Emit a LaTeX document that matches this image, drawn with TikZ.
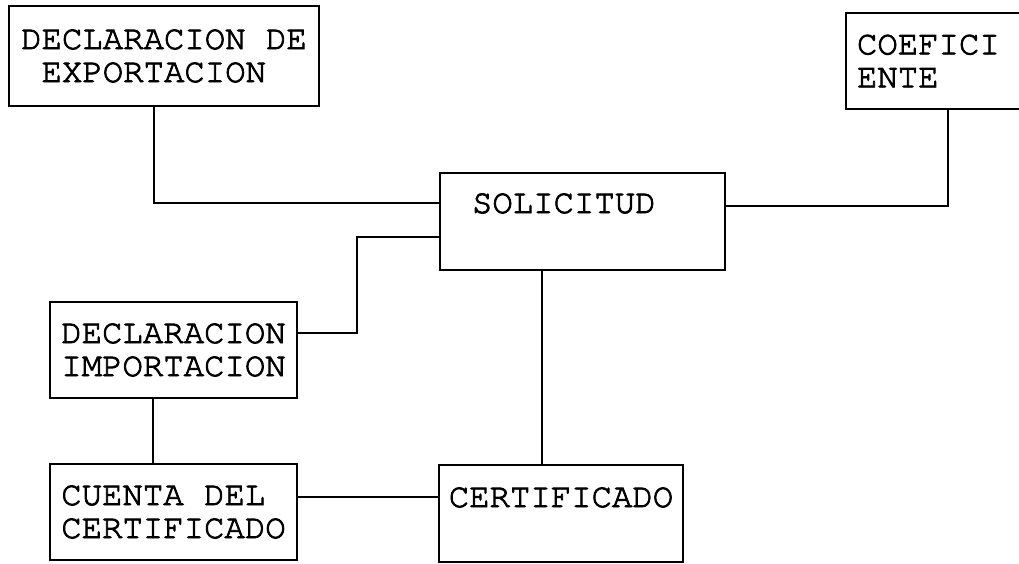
\documentclass[tikz,border=0pt]{standalone}
\usepackage{fontspec}
\newfontfamily\cursorfont[FakeBold=2.5]{texgyrecursor-regular.otf}
\usepackage{tikz}

\begin{document}
\begin{tikzpicture}[
  x=1pt, y=-1pt,
  box/.style={draw, line width=2.4pt, align=left,
    font=\cursorfont\fontsize{34}{33}\selectfont,
    inner xsep=8pt, inner ysep=0pt},
  link/.style={line width=2.4pt},
]
\useasboundingbox (0,0) rectangle (1019,563);

\node[box, minimum width=310pt, minimum height=100pt] (expo) at (164,56)
  {DECLARACION DE\\\phantom{E}EXPORTACION};
\node[box, minimum width=300pt, minimum height=96pt, inner xsep=11pt,
  text width=278pt] (coef) at (996,61)
  {COEFICI\\ENTE};
\node[box, minimum width=285pt, minimum height=97pt, inner xsep=32pt,
  text width=221pt, text height=19pt, text depth=36pt] (soli) at (582.5,221.5)
  {SOLICITUD};
\node[box, minimum width=247pt, minimum height=96pt] (impo) at (173.5,350)
  {DECLARACION\\IMPORTACION};
\node[box, minimum width=247pt, minimum height=96pt] (cuenta) at (173.5,512)
  {CUENTA DEL\\CERTIFICADO};
\node[box, minimum width=244pt, minimum height=97pt,
  text height=19pt, text depth=32pt] (certif) at (561,513.5)
  {CERTIFICADO};

\draw[link] ([xshift=-10pt]expo.south) |- ([yshift=18.5pt]soli.west);
\draw[link] ([xshift=-48pt]coef.south) |- ([yshift=15.5pt]soli.east);
\draw[link] ([yshift=-15.5pt]soli.west) -- ++(-82,0)
  |- ([yshift=17pt]impo.east);
\draw[link] ([xshift=-40.5pt]soli.south)
  -- ([xshift=-40.5pt]soli.south |- certif.north);
\draw[link] ([xshift=-20.5pt]impo.south) -- ([xshift=-20.5pt]cuenta.north);
\draw[link] ([yshift=15pt]cuenta.east) -- ([yshift=15pt]cuenta.east -| certif.west);

\end{tikzpicture}
\end{document}
